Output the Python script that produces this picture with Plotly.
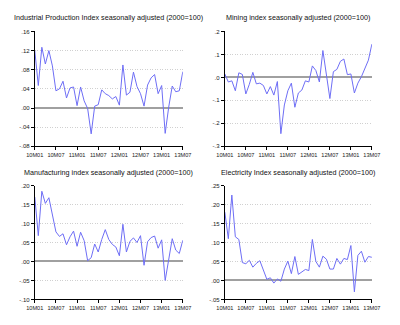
import plotly.graph_objects as go

months = [f"{y}M{m:02d}" for y in (10, 11, 12, 13) for m in range(1, 13)][:43]
tick_idx = list(range(0, 43, 6))
tick_labels = [months[i] for i in tick_idx]

industrial = [.12, .047, .127, .092, .12, .088, .036, .04, .056, .021, .042, .044,
              .005, .044, .015, -.001, -.054, .004, .007, .038, .03, .026, .019, .024,
              .006, .09, .027, .033, .075, .045, .03, .004, .048, .063, .07, .03,
              .047, -.053, .002, .046, .034, .036, .076]
mining = [.015, -.02, -.015, -.058, .02, .013, -.072, -.03, .022, -.028, -.025, -.035,
          -.072, -.04, -.077, -.018, -.245, -.12, -.058, -.025, -.13, -.068, -.055, -.015,
          -.02, .05, .03, -.02, .117, .02, -.092, .025, .035, .07, .08, .012,
          .015, -.068, -.025, .003, .04, .075, .145]
manufacturing = [.17, .068, .185, .153, .168, .125, .078, .066, .073, .044, .065, .08,
                 .04, .077, .055, .002, .01, .046, .025, .058, .084, .058, .045, .038,
                 .015, .098, .025, .053, .062, .05, .068, -.01, .052, .063, .067, .035,
                 .057, -.05, .005, .06, .03, .021, .056]
electricity = [.18, .11, .225, .115, .108, .047, .044, .053, .035, .045, .052, .025,
               .003, .007, -.007, .004, -.002, .03, .051, .018, .063, .016, .022, .029,
               .026, .108, .05, .035, .064, .056, .03, .03, .058, .043, .058, .055,
               .092, -.03, .066, .077, .048, .063, .061]

titles = ["Industrial Production Index seasonally adjusted (2000=100)",
          "Mining index seasonally adjusted (2000=100)",
          "Manufacturing index seasonally adjusted (2000=100)",
          "Electricity Index seasonally adjusted (2000=100)"]
series = [industrial, mining, manufacturing, electricity]
ytick_vals = [[-.08, -.04, 0, .04, .08, .12, .16],
              [-.3, -.2, -.1, 0, .1, .2],
              [-.10, -.05, 0, .05, .10, .15, .20],
              [-.05, 0, .05, .10, .15, .20, .25]]
ytick_text = [["-.08", "-.04", ".00", ".04", ".08", ".12", ".16"],
              ["-.3", "-.2", "-.1", ".0", ".1", ".2"],
              ["-.10", "-.05", ".00", ".05", ".10", ".15", ".20"],
              ["-.05", ".00", ".05", ".10", ".15", ".20", ".25"]]

W, H = 400, 325
xdoms = [(27, 182), (226, 380), (27, 182), (226, 380)]
ydoms = [(29, 146), (29, 146), (186, 302), (186, 302)]
title_y = [15, 15, 173, 173]

font = "Liberation Sans, Arial, sans-serif"
fig = go.Figure()
annotations = []
layout = {}
for i in range(4):
    n = "" if i == 0 else str(i + 1)
    fig.add_trace(go.Scatter(x=list(range(43)), y=series[i], mode="lines",
                             line=dict(color="#6e6ef5", width=1),
                             xaxis="x" + n, yaxis="y" + n, showlegend=False,
                             hoverinfo="skip"))
    x0, x1 = xdoms[i]
    y0, y1 = ydoms[i]
    layout["xaxis" + n] = dict(domain=[x0 / W, x1 / W], range=[0, 42],
                               anchor="y" + n, tickvals=tick_idx, ticktext=tick_labels,
                               tickangle=0,
                               ticks="outside", ticklen=3, tickcolor="#000",
                               showline=True, linecolor="#000", linewidth=1,
                               showgrid=False, zeroline=False,
                               tickfont=dict(size=5.6, family=font, color="#222"))
    yv = ytick_vals[i]
    layout["yaxis" + n] = dict(domain=[1 - y1 / H, 1 - y0 / H], range=[yv[0], yv[-1]],
                               anchor="x" + n, tickvals=yv, ticktext=ytick_text[i],
                               ticks="outside", ticklen=3, tickcolor="#000",
                               showline=True, linecolor="#000", linewidth=1,
                               showgrid=True, gridcolor="#d0d0d0", griddash="1px,1.5px",
                               gridwidth=1,
                               zeroline=True, zerolinecolor="#a0a0a0", zerolinewidth=2,
                               tickfont=dict(size=6, family=font, color="#222"))
    annotations.append(dict(text=titles[i], x=(x0 + x1) / 2 / W, y=1 - title_y[i] / H,
                            xref="paper", yref="paper", showarrow=False,
                            xanchor="center", yanchor="middle",
                            font=dict(size=7.2, family=font, color="#111")))

fig.update_layout(width=W, height=H, margin=dict(l=0, r=0, t=0, b=0),
                  paper_bgcolor="white", plot_bgcolor="white",
                  annotations=annotations, **layout)
fig.write_html("out.html")
